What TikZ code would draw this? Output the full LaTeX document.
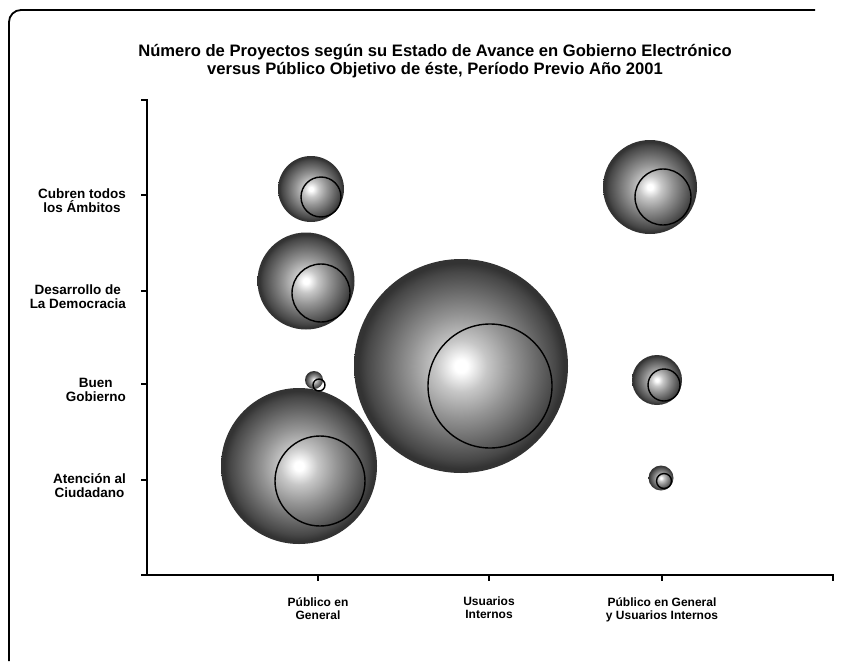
\documentclass[tikz,border=0pt]{standalone}
\usepackage{fontspec}
\setmainfont{Liberation Sans}
\usepackage{tikz}
\usetikzlibrary{positioning}

\pgfdeclareradialshading{bubblegray}{\pgfpoint{0bp}{0bp}}{%
  color(0bp)=(white); color(1.5bp)=(white); color(6bp)=(black!22);
  color(12bp)=(black!42); color(18bp)=(black!60); color(22bp)=(black!72);
  color(24bp)=(black!80); color(50bp)=(black!80)}

\begin{document}
\begin{tikzpicture}[x=1pt, y=-1pt,
    bubble/.style = {circle, inner sep=0pt, shade, shading=bubblegray, minimum size=#1},
    ring/.style = {circle, draw, line width=1.4pt, inner sep=0pt, minimum size=#1},
    axis/.style = {line width=1.8pt},
    ylab/.style = {font=\bfseries\fontsize{13.5}{14}\selectfont, align=center, inner sep=0pt},
    xlab/.style = {font=\bfseries\fontsize{12}{13}\selectfont, align=center, inner sep=0pt}
  ]
  \useasboundingbox (0,0) rectangle (842,661);
  \draw[line width=1.8pt] (9,661) -- (9,22) arc (180:270:12) -- (815,10);

  \node[font=\bfseries\fontsize{16.6}{18}\selectfont, align=center] (title) at (435,61)
    {Número de Proyectos según su Estado de Avance en Gobierno Electrónico\\
     versus Público Objetivo de éste, Período Previo Año 2001};

  % axes
  \coordinate (top) at (147,100);
  \coordinate (o) at (147,575);
  \coordinate (xend) at (833,575);
  \coordinate (y1) at (147,480);
  \coordinate (y2) at (147,384);
  \coordinate (y3) at (147,291);
  \coordinate (y4) at (147,195);
  \coordinate (x1) at (318,575);
  \coordinate (x2) at (489,575);
  \coordinate (x3) at (662,575);

  \draw[axis] ([xshift=-6pt]top) -- (top) -- (o) -- (xend) -- ++(0,6);
  \draw[axis] (o) -- ++(-6,0);
  \draw[axis] (y1) -- ++(-6,0);
  \draw[axis] (y2) -- ++(-6,0);
  \draw[axis] (y3) -- ++(-6,0);
  \draw[axis] (y4) -- ++(-6,0);
  \draw[axis] (x1) -- ++(0,6);
  \draw[axis] (x2) -- ++(0,6);
  \draw[axis] (x3) -- ++(0,6);

  \node[ylab, left=21pt of y4, yshift=-6pt] (l4) {Cubren todos\\los Ámbitos};
  \node[ylab, left=21pt of y3, yshift=-6pt] (l3) {Desarrollo de\\La Democracia};
  \node[ylab, left=21pt of y2, yshift=-6pt] (l2) {Buen\\Gobierno};
  \node[ylab, left=21pt of y1, yshift=-6pt] (l1) {Atención al\\Ciudadano};

  \node[xlab, below=22pt of x1] (c1) {Público en\\General};
  \node[xlab, below=22pt of x2] (c2) {Usuarios\\Internos};
  \node[xlab, below=22pt of x3] (c3) {Público en General\\y Usuarios Internos};

  % bubbles: Publico en General
  \node[bubble=66pt] (b14) at (311,189) {};
  \node[ring=40pt] (r14) at (321,197) {};
  \node[bubble=97pt] (b13) at (306,281) {};
  \node[ring=58pt] (r13) at (321,293) {};
  \node[bubble=156pt] (b11) at (299,466) {};
  \node[ring=90pt] (r11) at (320,481) {};
  \node[bubble=18pt] (b12) at (314,380) {};
  \node[ring=12pt] (r12) at (319,385) {};

  % Usuarios Internos
  \node[bubble=214pt] (b22) at (461,366) {};
  \node[ring=124pt] (r22) at (490,386) {};

  % Publico en General y Usuarios Internos
  \node[bubble=94pt] (b34) at (650,187) {};
  \node[ring=56pt] (r34) at (663,197) {};
  \node[bubble=50pt] (b32) at (657,380) {};
  \node[ring=32pt] (r32) at (664,385) {};
  \node[bubble=25pt] (b31) at (661,478) {};
  \node[ring=15pt] (r31) at (664,481) {};
\end{tikzpicture}
\end{document}
